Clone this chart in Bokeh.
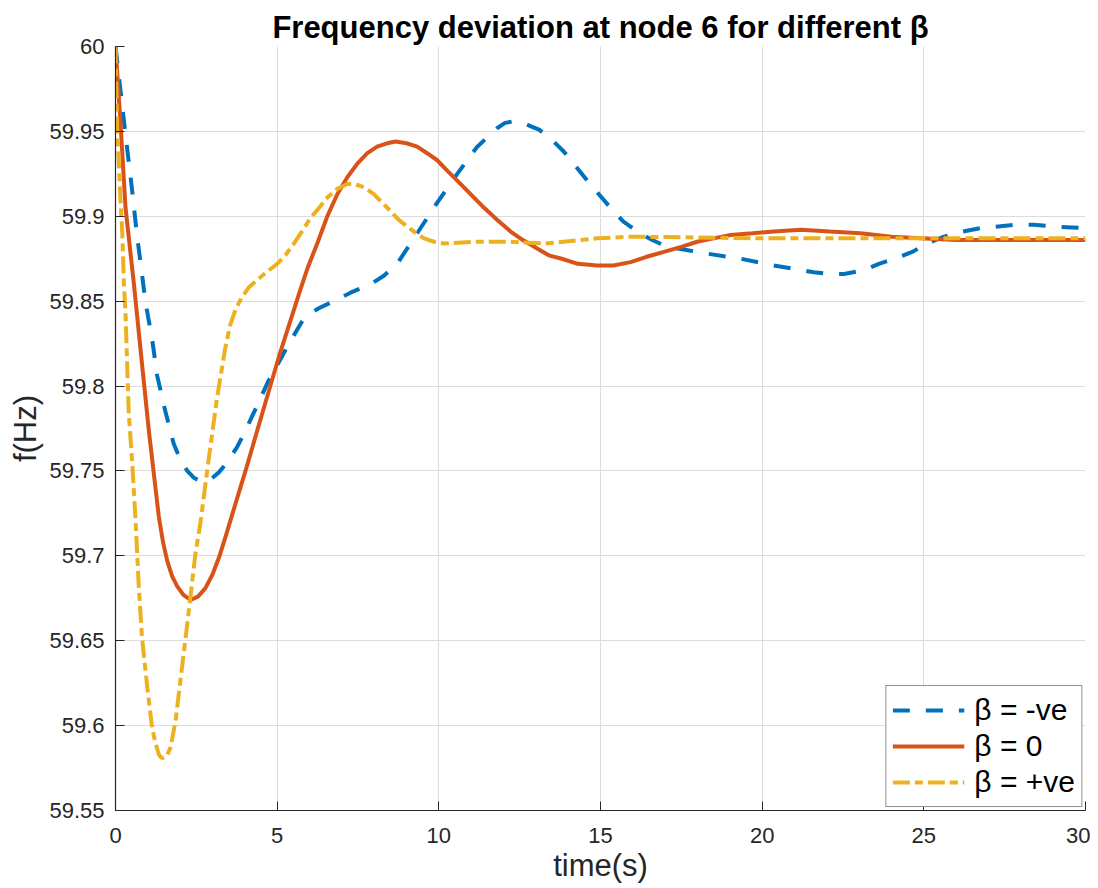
from bokeh.plotting import figure
from bokeh.models import FixedTicker, Range1d
from bokeh.embed import file_html
from bokeh.resources import INLINE

# ---- data ----
t_neg = [0, 0.155, 0.28, 0.41, 0.54, 0.65, 0.80, 0.93, 1.13, 1.29, 1.53, 1.80, 2.0, 2.22, 2.42,
         2.63, 2.85, 3.0, 3.19, 3.45, 3.76, 4.0, 4.27, 4.73, 5.31, 5.55, 5.8, 6.05, 6.3, 6.75,
         7.27, 7.89, 8.3, 8.71, 9.33, 9.95, 10.57, 11.19, 11.81, 12.05, 12.32, 12.6, 12.85,
         13.1, 13.5, 13.87, 14.59, 15.31, 15.7, 16.14, 16.6, 17.06, 17.7, 18.30, 19.33, 20.36,
         21.0, 21.6, 22.1, 22.53, 23.1, 23.61, 24.1, 24.64, 25.1, 25.62, 26.2, 26.76, 27.3,
         27.84, 28.4, 29.02, 30]
f_neg = [60.0, 59.974, 59.953, 59.932, 59.911, 59.891, 59.869, 59.849, 59.828, 59.806, 59.786,
         59.766, 59.757, 59.750, 59.746, 59.744, 59.744, 59.746, 59.749, 59.755, 59.764, 59.773,
         59.784, 59.803, 59.823, 59.831, 59.839, 59.843, 59.846, 59.850, 59.855, 59.860, 59.865,
         59.872, 59.890, 59.908, 59.925, 59.941, 59.952, 59.955, 59.956, 59.955, 59.953, 59.951,
         59.945, 59.938, 59.921, 59.905, 59.897, 59.891, 59.886, 59.882, 59.880, 59.878, 59.875,
         59.871, 59.869, 59.867, 59.866, 59.866, 59.868, 59.872, 59.875, 59.879, 59.884, 59.888,
         59.891, 59.893, 59.894, 59.895, 59.895, 59.894, 59.893]

t_zero = [0, 0.155, 0.31, 0.57, 0.82, 1.03, 1.34, 1.47, 1.60, 1.75, 1.91, 2.1, 2.32, 2.55, 2.78,
          3.0, 3.2, 3.4, 3.7, 4.02, 4.54, 5.05, 5.67, 5.95, 6.24, 6.55, 6.86, 7.17, 7.48, 7.78,
          8.09, 8.4, 8.66, 9.0, 9.33, 9.65, 9.95, 10.25, 10.57, 11.4, 11.8, 12.22, 12.6, 13.04,
          13.4, 13.8, 14.3, 14.9, 15.4, 15.93, 16.4, 16.96, 17.5, 17.99, 18.5, 19.02, 19.7,
          20.36, 21.2, 22.1, 23.04, 24.0, 24.9, 26.0, 27.17, 30]
f_zero = [60.0, 59.955, 59.905, 59.860, 59.813, 59.774, 59.723, 59.708, 59.697, 59.688, 59.682,
          59.677, 59.674, 59.676, 59.681, 59.689, 59.699, 59.711, 59.730, 59.750, 59.784, 59.817,
          59.854, 59.870, 59.884, 59.900, 59.913, 59.923, 59.931, 59.937, 59.941, 59.943, 59.944,
          59.943, 59.941, 59.937, 59.933, 59.927, 59.921, 59.905, 59.898, 59.891, 59.886, 59.881,
          59.877, 59.875, 59.872, 59.871, 59.871, 59.873, 59.876, 59.879, 59.882, 59.885, 59.887,
          59.889, 59.890, 59.891, 59.892, 59.891, 59.890, 59.888, 59.887, 59.886, 59.886, 59.886]

t_pos = [0, 0.05, 0.1, 0.15, 0.21, 0.26, 0.31, 0.36, 0.41, 0.52, 0.62, 0.72, 0.82, 0.98, 1.13,
         1.22, 1.34, 1.42, 1.49, 1.58, 1.70, 1.86, 2.01, 2.17, 2.32, 2.47, 2.63, 2.89, 3.14,
         3.40, 3.55, 3.71, 3.9, 4.12, 4.35, 4.6, 5.0, 5.25, 5.52, 5.8, 6.03, 6.3, 6.55, 6.85,
         7.17, 7.4, 7.7, 7.99, 8.25, 8.51, 8.75, 9.02, 9.3, 9.54, 9.85, 10.16, 11.19, 12.22,
         13.3, 14.9, 15.93, 20, 25, 30]
f_pos = [60.0, 59.952, 59.933, 59.911, 59.890, 59.860, 59.843, 59.813, 59.784, 59.754, 59.721,
         59.682, 59.652, 59.623, 59.599, 59.591, 59.583, 59.581, 59.581, 59.582, 59.587, 59.603,
         59.627, 59.652, 59.676, 59.701, 59.720, 59.758, 59.793, 59.823, 59.836, 59.845, 59.852,
         59.858, 59.862, 59.866, 59.872, 59.877, 59.884, 59.892, 59.899, 59.905, 59.911, 59.916,
         59.919, 59.919, 59.917, 59.913, 59.908, 59.903, 59.898, 59.894, 59.890, 59.887, 59.885,
         59.884, 59.885, 59.885, 59.884, 59.887, 59.888, 59.887, 59.887, 59.887]

x_ticks = [0, 5, 10, 15, 20, 25, 30]
y_ticks = [59.55, 59.6, 59.65, 59.7, 59.75, 59.8, 59.85, 59.9, 59.95, 60.0]
y_tick_labels = ["59.55", "59.6", "59.65", "59.7", "59.75", "59.8", "59.85", "59.9", "59.95", "60"]

labels = ["β = -ve", "β = 0", "β = +ve"]
colors = ["#0072BD", "#D95319", "#EDB120"]

FONT = "Liberation Sans"
INK = "#262626"

p = figure(width=1090, height=888, output_backend="svg", toolbar_location=None,
           x_range=Range1d(0, 30), y_range=Range1d(59.55, 60.0),
           min_border_left=115, min_border_right=5, min_border_top=46, min_border_bottom=78,
           background_fill_color="white", border_fill_color="white")
p.outline_line_color = None

p.title.text = "Frequency deviation at node 6 for different β"
p.title.align = "center"
p.title.text_font = FONT
p.title.text_font_size = "31px"
p.title.text_font_style = "bold"
p.title.text_color = "black"
p.title.standoff = 4

p.line(t_neg, f_neg, line_color=colors[0], line_width=4, line_dash="17 16", legend_label=labels[0])
p.line(t_zero, f_zero, line_color=colors[1], line_width=4, legend_label=labels[1])
p.line(t_pos, f_pos, line_color=colors[2], line_width=4, line_dash="17 5 8 5", legend_label=labels[2])

for ax in (p.xaxis[0], p.yaxis[0]):
    ax.axis_line_color = INK
    ax.axis_line_width = 1.2
    ax.major_tick_line_color = INK
    ax.major_tick_in = 9
    ax.major_tick_out = 0
    ax.minor_tick_line_color = None
    ax.major_label_text_font = FONT
    ax.major_label_text_font_size = "22px"
    ax.major_label_text_color = INK
    ax.axis_label_text_font = FONT
    ax.axis_label_text_font_size = "31px"
    ax.axis_label_text_font_style = "normal"
    ax.axis_label_text_color = INK

p.xaxis.ticker = FixedTicker(ticks=x_ticks)
p.yaxis.ticker = FixedTicker(ticks=y_ticks)
p.yaxis.major_label_overrides = {v: s for v, s in zip(y_ticks, y_tick_labels)}
p.xaxis.axis_label = "time(s)"
p.yaxis.axis_label = "f(Hz)"
p.xaxis.major_label_standoff = 17
p.yaxis.major_label_standoff = 11
p.xaxis.axis_label_standoff = 2
p.yaxis.axis_label_standoff = 3

p.xgrid.grid_line_color = "#dcdcdc"
p.ygrid.grid_line_color = "#dcdcdc"
p.xgrid.grid_line_width = 1
p.ygrid.grid_line_width = 1

lg = p.legend[0]
lg.location = "bottom_right"
lg.margin = 3
lg.padding = 6
lg.spacing = 0
lg.label_text_font = FONT
lg.label_text_font_size = "30px"
lg.label_text_color = "black"
lg.label_height = 36
lg.glyph_height = 36
lg.glyph_width = 72
lg.label_standoff = 10
lg.border_line_color = INK
lg.border_line_width = 1
lg.background_fill_color = "white"
lg.background_fill_alpha = 1.0

open("out.html", "w").write(file_html(p, INLINE))
